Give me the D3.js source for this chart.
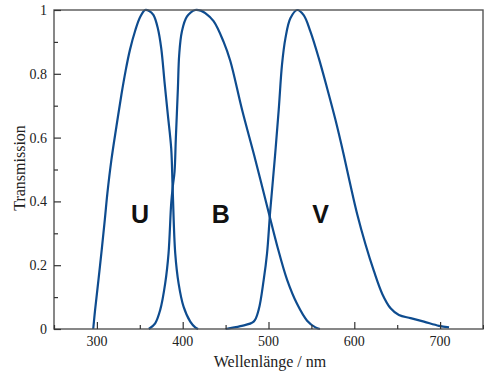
<!DOCTYPE html>
<html><head><meta charset="utf-8">
<script src="https://cdn.jsdelivr.net/npm/d3@7"></script>
<style>body{margin:0;background:#fff}svg{display:block}</style>
</head><body>
<svg id="c" width="484" height="374"></svg>
<script>
const uNm  = [295.7, 297.9, 303.7, 309.2, 312.2, 316.9, 322.7, 328.6, 333.5, 338.5, 344.6, 350.4, 356.2, 361, 366, 371, 375, 378.8, 382.7, 386.6, 388.3, 391.3, 395.2, 401, 408.8, 414.6, 418];
const uT   = [0, 0.06, 0.2, 0.342, 0.425, 0.53, 0.634, 0.735, 0.81, 0.875, 0.935, 0.978, 1.0, 0.997, 0.984, 0.943, 0.88, 0.775, 0.671, 0.566, 0.44, 0.237, 0.143, 0.07, 0.023, 0.005, 0];
const bNm  = [360.5, 367.9, 373.8, 379.6, 383.5, 386.6, 388.6, 390.5, 392, 394.4, 395.9, 399, 404.9, 414.6, 421, 426.3, 436, 447.7, 455.5, 469.2, 484.7, 500.2, 510, 521.7, 533.4, 545, 554.7, 560];
const bT   = [0, 0.018, 0.06, 0.143, 0.237, 0.394, 0.45, 0.493, 0.597, 0.754, 0.859, 0.932, 0.979, 1.0, 0.998, 0.99, 0.965, 0.9, 0.84, 0.687, 0.53, 0.365, 0.262, 0.154, 0.078, 0.026, 0.005, 0];
const vNm  = [450, 467.2, 482.7, 488.5, 494.4, 498.3, 502, 507.2, 511.9, 515.8, 519.7, 525.5, 533.4, 541, 548.9, 558.6, 568.4, 578.1, 587.8, 595.6, 603.4, 613.1, 622.8, 632.6, 642.3, 652, 665.6, 681.2, 698.7, 710.4];
const vT   = [0, 0.009, 0.023, 0.06, 0.154, 0.237, 0.37, 0.53, 0.687, 0.83, 0.911, 0.974, 1.0, 0.984, 0.932, 0.849, 0.754, 0.655, 0.545, 0.45, 0.36, 0.265, 0.182, 0.11, 0.065, 0.044, 0.034, 0.023, 0.01, 0.005];
const filterNames = ["U", "B", "V"];
const labelNm = [350.4, 444.4, 560.6];
const labelT  = [0.332, 0.332, 0.332];
const xMajor = [300, 400, 500, 600, 700];
const xMinor = [250, 350, 450, 550, 650, 750];
const yMajor = [0, 0.2, 0.4, 0.6, 0.8, 1];
const yMinor = [0.1, 0.3, 0.5, 0.7, 0.9];

const svg = d3.select("#c");
const L = 54, R = 483, T = 10, B = 329;
const x = d3.scaleLinear().domain([250, 750]).range([L, R]);
const y = d3.scaleLinear().domain([0, 1]).range([B, T]);
const blue = "#0e4c8f";

// curves
const series = [[uNm, uT], [bNm, bT], [vNm, vT]];
const line = d3.line().x(d => x(d[0])).y(d => y(d[1])).curve(d3.curveCatmullRom.alpha(0.5));
series.forEach(([nm, t]) => {
  svg.append("path").datum(nm.map((n, i) => [n, t[i]]))
    .attr("d", line).attr("fill", "none").attr("stroke", blue)
    .attr("stroke-width", 2.2).attr("stroke-linejoin", "round");
});

// frame
svg.append("rect").attr("x", L).attr("y", T).attr("width", R - L).attr("height", B - T)
  .attr("fill", "none").attr("stroke", "#555").attr("stroke-width", 1.4);

// axes with inward ticks
const gx = svg.append("g").attr("transform", `translate(0,${B})`).call(d3.axisTop(x).tickValues(xMajor).tickSize(7).tickFormat(""));
const gxm = svg.append("g").attr("transform", `translate(0,${B})`).call(d3.axisTop(x).tickValues(xMinor).tickSize(4).tickFormat(""));
const gy = svg.append("g").attr("transform", `translate(${L},0)`).call(d3.axisRight(y).tickValues(yMajor).tickSize(7).tickFormat(""));
const gym = svg.append("g").attr("transform", `translate(${L},0)`).call(d3.axisRight(y).tickValues(yMinor).tickSize(4).tickFormat(""));
[gx, gxm, gy, gym].forEach(g => { g.select(".domain").remove(); g.selectAll("line").attr("stroke", "#333").attr("stroke-width", 1.2); });

// tick labels
const serif = "'Liberation Serif', 'Times New Roman', serif";
svg.append("g").selectAll("text").data(xMajor).join("text")
  .attr("x", d => x(d)).attr("y", B + 17).attr("text-anchor", "middle")
  .attr("font-family", serif).attr("font-size", 14).attr("fill", "#222").text(d => d);
svg.append("g").selectAll("text").data(yMajor).join("text")
  .attr("x", L - 7).attr("y", d => y(d)).attr("dy", "0.35em").attr("text-anchor", "end")
  .attr("font-family", serif).attr("font-size", 14).attr("fill", "#222").text(d => d3.format("~g")(d));

// axis titles
svg.append("text").attr("x", 270).attr("y", 367).attr("text-anchor", "middle")
  .attr("font-family", serif).attr("font-size", 16).attr("fill", "#222").text("Wellenlänge / nm");
svg.append("text").attr("transform", "translate(25,168) rotate(-90)").attr("text-anchor", "middle")
  .attr("font-family", serif).attr("font-size", 16).attr("fill", "#222").text("Transmission");

// filter labels
svg.append("g").selectAll("text").data(filterNames).join("text")
  .attr("x", (d, i) => x(labelNm[i])).attr("y", (d, i) => y(labelT[i]))
  .attr("text-anchor", "middle").attr("font-family", "'Liberation Sans', Arial, sans-serif")
  .attr("font-weight", "bold").attr("font-size", 25).attr("fill", "#111").text(d => d);
</script>
</body></html>
